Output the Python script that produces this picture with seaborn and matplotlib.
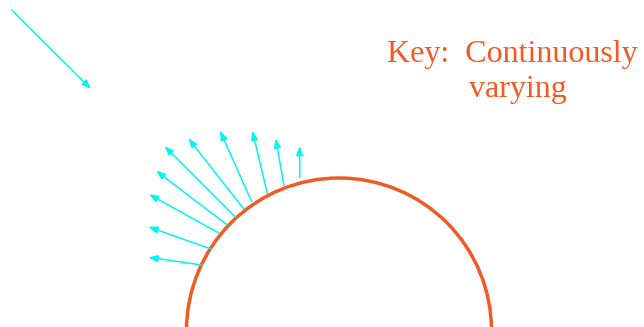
import matplotlib
matplotlib.use("Agg")
import matplotlib.pyplot as plt
from matplotlib.patches import Arc
import seaborn as sns

# surface (half circle), pixel coordinates, y pointing down
surface_center = (339.0, 330.5)
surface_radius = 152.5

# incoming ray
incoming_tail = (11.7, 10.0)
incoming_head = (91.0, 89.0)

# reflected rays: tail on the surface, head outward
tail_x = [201.7, 211.0, 219.3, 227.3, 235.7, 244.0, 251.7, 267.3, 284.0, 299.7]
tail_y = [265.0, 249.0, 233.3, 225.0, 217.3, 209.3, 201.7, 193.3, 185.7, 177.3]
head_x = [148.3, 148.3, 149.0, 156.0, 164.3, 188.3, 220.0, 252.3, 275.7, 299.7]
head_y = [257.3, 226.7, 194.3, 170.7, 146.0, 138.3, 130.7, 130.7, 138.3, 146.0]

key_lines = ["Key:  Continuously", "varying"]

ORANGE = "#f15a22"
CYAN = "#00f5f5"

sns.set_theme(style="white")
plt.rcParams["font.family"] = ["Liberation Serif", "DejaVu Serif"]

fig = plt.figure(figsize=(6.44, 3.27), dpi=100)
ax = fig.add_axes([0, 0, 1, 1])
ax.set_xlim(0, 644)
ax.set_ylim(327, 0)
ax.axis("off")

ax.add_patch(Arc(surface_center, 2 * surface_radius, 2 * surface_radius,
                 theta1=180, theta2=360, color=ORANGE, linewidth=2.5))

arrow_kw = dict(arrowstyle="-|>,head_length=0.45,head_width=0.17",
                color=CYAN, linewidth=1.1, shrinkA=0, shrinkB=0)
ax.annotate("", xy=incoming_head, xytext=incoming_tail, arrowprops=arrow_kw)
for tx, ty, hx, hy in zip(tail_x, tail_y, head_x, head_y):
    ax.annotate("", xy=(hx, hy), xytext=(tx, ty), arrowprops=arrow_kw)

ax.text(387, 61.7, key_lines[0], color=ORANGE, fontsize=23,
        ha="left", va="baseline")
ax.text(518, 96.7, key_lines[1], color=ORANGE, fontsize=23,
        ha="center", va="baseline")

fig.savefig("out.png", dpi=100)
